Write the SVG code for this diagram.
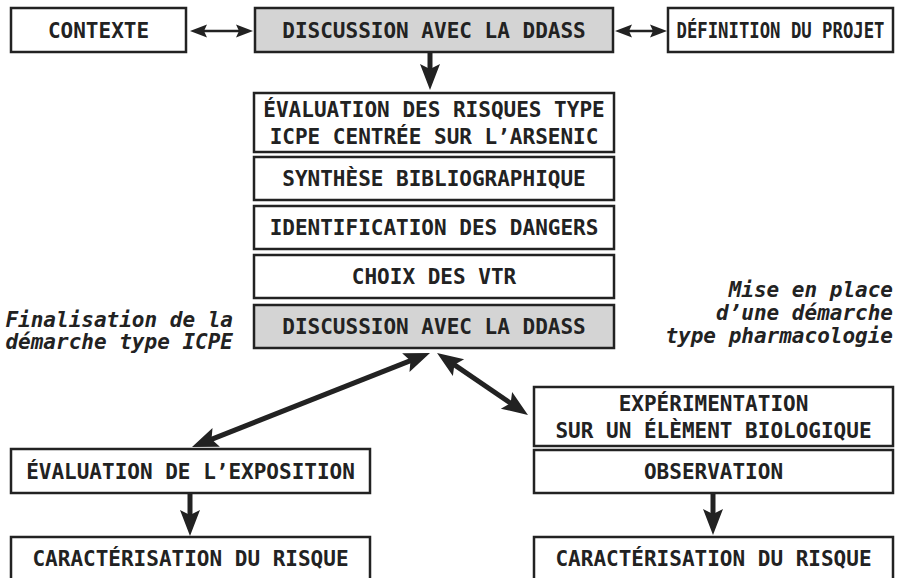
<svg xmlns="http://www.w3.org/2000/svg" width="912" height="578" viewBox="0 0 912 578">
<style>
.box{fill:#fff;stroke:#222;stroke-width:2.5}
.gray{fill:#d4d4d4}
.t{font-family:"DejaVu Sans Mono","Liberation Mono",monospace;font-weight:bold;font-size:21px;fill:#222;text-anchor:middle}
.i{font-family:"DejaVu Sans Mono","Liberation Mono",monospace;font-weight:bold;font-style:italic;font-size:21px;fill:#222;text-anchor:end}
.c{stroke:#222;fill:none}
.thin{stroke-width:2.5;marker-start:url(#ms);marker-end:url(#ms)}
.thick{stroke-width:5;marker-end:url(#mb)}
.both{marker-start:url(#mb)}
</style>
<defs>
<marker id="mb" markerUnits="userSpaceOnUse" markerWidth="26" markerHeight="20" refX="16" refY="10" orient="auto-start-reverse" overflow="visible">
<path d="M0,0 L26,10 L0,20 L5,10 Z" fill="#222"/>
</marker>
<marker id="ms" markerUnits="userSpaceOnUse" markerWidth="17" markerHeight="13" refX="11" refY="6.5" orient="auto-start-reverse" overflow="visible">
<path d="M0,0 L17,6.5 L0,13 L3,6.5 Z" fill="#222"/>
</marker>
</defs>
<g id="connectors">
<line class="c thin" x1="196" y1="31" x2="247" y2="31"/>
<line class="c thin" x1="621" y1="31" x2="661" y2="31"/>
<line class="c thick" x1="430" y1="52" x2="430" y2="80"/>
<line class="c thick both" x1="420.7" y1="356.7" x2="201.3" y2="443.3"/>
<line class="c thick both" x1="445.3" y1="358.6" x2="519.7" y2="409.4"/>
<line class="c thick" x1="190" y1="493" x2="190" y2="526"/>
<line class="c thick" x1="713" y1="493" x2="713" y2="525"/>
</g>
<g id="contexte"><rect class="box" x="11" y="8" width="175" height="44"/><text class="t" x="98.5" y="38">CONTEXTE</text></g>
<g id="ddass1"><rect class="box gray" x="255" y="8" width="358" height="44"/><text class="t" x="434" y="38">DISCUSSION AVEC LA DDASS</text></g>
<g id="definition"><rect class="box" x="668" y="8" width="225" height="44"/><text class="t" x="780.5" y="38" textLength="208" lengthAdjust="spacingAndGlyphs">DÉFINITION DU PROJET</text></g>
<g id="evaluation"><rect class="box" x="254" y="93" width="360" height="59"/><text class="t" x="434" y="117">ÉVALUATION DES RISQUES TYPE</text><text class="t" x="434" y="144">ICPE CENTRÉE SUR L’ARSENIC</text></g>
<g id="synthese"><rect class="box" x="254" y="157" width="360" height="43"/><text class="t" x="434" y="186">SYNTHÈSE BIBLIOGRAPHIQUE</text></g>
<g id="identification"><rect class="box" x="254" y="206" width="360" height="43"/><text class="t" x="434" y="235">IDENTIFICATION DES DANGERS</text></g>
<g id="choix"><rect class="box" x="254" y="255" width="360" height="43"/><text class="t" x="434" y="284">CHOIX DES VTR</text></g>
<g id="ddass2"><rect class="box gray" x="254" y="305" width="360" height="43"/><text class="t" x="434" y="334">DISCUSSION AVEC LA DDASS</text></g>
<g id="label-left"><text class="i" x="233" y="327">Finalisation de la</text><text class="i" x="233" y="349">démarche type ICPE</text></g>
<g id="label-right"><text class="i" x="893" y="297">Mise en place</text><text class="i" x="893" y="320">d’une démarche</text><text class="i" x="893" y="343">type pharmacologie</text></g>
<g id="experimentation"><rect class="box" x="534" y="387" width="359" height="59"/><text class="t" x="713.5" y="411">EXPÉRIMENTATION</text><text class="t" x="713.5" y="438">SUR UN ÉLÈMENT BIOLOGIQUE</text></g>
<g id="observation"><rect class="box" x="534" y="450" width="359" height="43"/><text class="t" x="713.5" y="479">OBSERVATION</text></g>
<g id="caracterisation-right"><rect class="box" x="534" y="537" width="359" height="43"/><text class="t" x="713.5" y="566">CARACTÉRISATION DU RISQUE</text></g>
<g id="exposition"><rect class="box" x="11" y="449" width="359" height="44"/><text class="t" x="190.5" y="479">ÉVALUATION DE L’EXPOSITION</text></g>
<g id="caracterisation-left"><rect class="box" x="11" y="537" width="359" height="43"/><text class="t" x="190.5" y="566">CARACTÉRISATION DU RISQUE</text></g>
</svg>
